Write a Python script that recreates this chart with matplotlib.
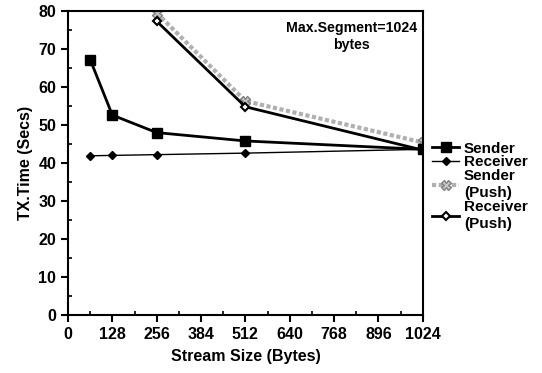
import matplotlib
matplotlib.use("Agg")
import matplotlib.pyplot as plt
from matplotlib.ticker import MultipleLocator

plt.rcParams['font.family'] = ['Liberation Sans', 'DejaVu Sans']
plt.rcParams['font.weight'] = 'bold'

x_main = [64, 128, 256, 512, 1024]
sender = [67.2, 52.6, 48.0, 45.8, 43.6]
receiver = [41.9, 42.0, 42.2, 42.6, 43.6]
x_push = [256, 512, 1024]
sender_push = [79.5, 56.3, 45.4]
receiver_push = [77.3, 54.8, 43.4]

xticks = [0, 128, 256, 384, 512, 640, 768, 896, 1024]
yticks = [0, 10, 20, 30, 40, 50, 60, 70, 80]

FS = 11.5

fig = plt.figure(figsize=(5.42, 3.73), dpi=100)
ax = fig.add_axes([0.1255, 0.1555, 0.6545, 0.815])

ax.plot(x_push, sender_push, color='#b0b0b0', lw=3.0, ls=(0, (1, 0.6)),
        marker='X', ms=7, mfc='#c8c8c8', mec='#808080', label='Sender\n(Push)', zorder=2)
ax.plot(x_push, receiver_push, color='black', lw=2.0, marker='D', ms=4.5,
        mfc='white', mec='black', mew=1.5, label='Receiver\n(Push)', zorder=3)
ax.plot(x_main, sender, color='black', lw=2.0, marker='s', ms=7,
        mfc='black', mec='black', label='Sender', zorder=4)
ax.plot(x_main, receiver, color='black', lw=1.0, marker='D', ms=4,
        mfc='black', mec='black', label='Receiver', zorder=4)

ax.set_xlim(0, 1024)
ax.set_ylim(0, 80)
ax.set_xticks(xticks)
ax.set_yticks(yticks)
ax.xaxis.set_minor_locator(MultipleLocator(64))
ax.yaxis.set_minor_locator(MultipleLocator(5))
ax.tick_params(which='major', direction='out', length=5, width=1.5, labelsize=FS)
ax.tick_params(which='minor', direction='in', length=3, width=1.2)
for s in ax.spines.values():
    s.set_linewidth(1.5)
for lab in ax.get_xticklabels() + ax.get_yticklabels():
    lab.set_fontweight('bold')

ax.set_xlabel('Stream Size (Bytes)', fontsize=FS, fontweight='bold', labelpad=5)
ax.set_ylabel('TX.Time (Secs)', fontsize=FS, fontweight='bold', labelpad=4)

ax.text(819, 73.2, 'Max.Segment=1024\nbytes', ha='center', va='center',
        fontsize=10.2, fontweight='bold', linespacing=1.25)

h, l = ax.get_legend_handles_labels()
order = [2, 3, 0, 1]
leg = ax.legend([h[i] for i in order], [l[i] for i in order], loc='upper left',
                bbox_to_anchor=(1.0, 0.6), frameon=False,
                handlelength=1.8, handletextpad=0.3, labelspacing=-0.02,
                borderaxespad=0.2, prop={'weight': 'bold', 'size': 11})
for t in leg.get_texts():
    t.set_linespacing(1.3)

fig.savefig('out.png', dpi=100)
